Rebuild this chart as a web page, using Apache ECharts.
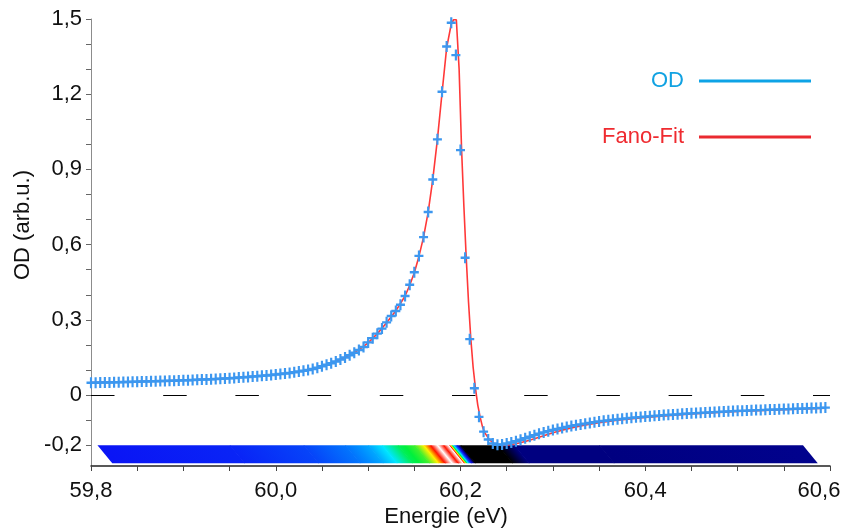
<!DOCTYPE html>
<html>
<head>
<meta charset="utf-8">
<script src="https://cdn.jsdelivr.net/npm/echarts@6.0.0/dist/echarts.min.js"></script>
<style>
  html, body { margin: 0; padding: 0; background: #fff; }
  #chart { width: 843px; height: 529px; }
</style>
</head>
<body>
<div id="chart"></div>
<script>
// OD-Messpunkte: Start 59,80 eV, Schrittweite 0,005 eV
var odStart = 59.8;
var odStep = 0.005;
var odValues = [
    0.049, 0.049, 0.050, 0.050, 0.050, 0.051, 0.051, 0.052, 0.052, 0.053,
    0.053, 0.054, 0.054, 0.055, 0.055, 0.056, 0.056, 0.057, 0.057, 0.058,
    0.059, 0.059, 0.060, 0.061, 0.062, 0.062, 0.063, 0.064, 0.065, 0.066,
    0.067, 0.068, 0.070, 0.071, 0.072, 0.074, 0.075, 0.077, 0.078, 0.080,
    0.082, 0.084, 0.086, 0.088, 0.091, 0.094, 0.097, 0.100, 0.104, 0.109,
    0.115, 0.121, 0.127, 0.134, 0.142, 0.150, 0.159, 0.169, 0.180, 0.192,
    0.210, 0.227, 0.245, 0.265, 0.290, 0.315, 0.335, 0.360, 0.395, 0.440,
    0.490, 0.555, 0.630, 0.730, 0.860, 1.020, 1.210, 1.390, 1.485, 1.356,
    0.977, 0.548, 0.223, 0.027, -0.087, -0.146, -0.177, -0.193, -0.198, -0.197,
    -0.193, -0.189, -0.184, -0.178, -0.172, -0.166, -0.160, -0.154, -0.149, -0.144,
    -0.139, -0.135, -0.131, -0.127, -0.123, -0.120, -0.117, -0.114, -0.111, -0.108,
    -0.105, -0.103, -0.101, -0.099, -0.097, -0.095, -0.093, -0.091, -0.089, -0.088,
    -0.086, -0.085, -0.083, -0.082, -0.080, -0.079, -0.078, -0.077, -0.075, -0.074,
    -0.073, -0.072, -0.071, -0.070, -0.069, -0.068, -0.067, -0.066, -0.065, -0.064,
    -0.063, -0.063, -0.062, -0.061, -0.060, -0.060, -0.059, -0.058, -0.058, -0.057,
    -0.056, -0.056, -0.055, -0.054, -0.054, -0.053, -0.052, -0.052, -0.051, -0.050
];

// Fano-Fit
var fitE = [59.80, 59.85, 59.90, 59.95, 60.00, 60.02, 60.04, 60.06, 60.08, 60.09,
    60.10, 60.11, 60.12, 60.13, 60.14, 60.145, 60.15, 60.155, 60.16, 60.165,
    60.17, 60.175, 60.18, 60.185, 60.19, 60.1925, 60.1955, 60.1985, 60.2012, 60.2037,
    60.2062, 60.2087, 60.2112, 60.2137, 60.2162, 60.2187, 60.2212, 60.2237, 60.2262, 60.2312,
    60.2362, 60.2412, 60.2462, 60.2512, 60.26, 60.27, 60.28, 60.29, 60.30, 60.31,
    60.32, 60.33, 60.34, 60.35, 60.37, 60.40, 60.45, 60.50, 60.55, 60.595];
var fitOD = [0.050, 0.054, 0.059, 0.067, 0.082, 0.091, 0.104, 0.127, 0.159, 0.180,
    0.208, 0.245, 0.288, 0.336, 0.395, 0.438, 0.488, 0.553, 0.630, 0.730,
    0.860, 1.020, 1.205, 1.385, 1.480, 1.497, 1.497, 1.300, 0.977, 0.750,
    0.548, 0.370, 0.223, 0.110, 0.027, -0.040, -0.087, -0.125, -0.150, -0.178,
    -0.193, -0.200, -0.201, -0.199, -0.194, -0.185, -0.174, -0.162, -0.150, -0.140,
    -0.131, -0.123, -0.116, -0.110, -0.100, -0.089, -0.075, -0.065, -0.058, -0.052];

// Farbstreifen (Intensitaet 0..1 entlang der Energie, obere Kante)
var stripE = [59.807, 59.95, 60.03, 60.075, 60.10, 60.115, 60.132, 60.150, 60.160, 60.1675,
    60.175, 60.1816, 60.187, 60.1924, 60.1957, 60.200, 60.240, 60.258, 60.35, 60.57];
var stripLevel = [0.30, 0.32, 0.36, 0.42, 0.48, 0.55, 0.66, 0.71, 0.80, 0.90,
    1.0, 0.90, 1.0, 0.55, 0.30, 0.0, 0.0, 0.12, 0.12, 0.14];
var stripTop = -0.2;
var stripBottom = -0.272;
var stripShift = 0.016;

// Achsen
var xLabelValues = [59.8, 60.0, 60.2, 60.4, 60.6];
var yLabelValues = [-0.2, 0, 0.3, 0.6, 0.9, 1.2, 1.5];
var yTickValues = [-0.2, -0.1, 0, 0.1, 0.2, 0.3, 0.4, 0.5, 0.6, 0.7, 0.8, 0.9, 1.0, 1.1, 1.2, 1.3, 1.4, 1.5];

var FONT = 'Arial, "Liberation Sans", sans-serif';
var colorMap = [
    [0.00, [0, 0, 0]],
    [0.12, [0, 0, 128]],
    [0.30, [10, 20, 245]],
    [0.45, [0, 140, 255]],
    [0.55, [0, 230, 255]],
    [0.68, [0, 240, 60]],
    [0.80, [255, 240, 0]],
    [0.90, [255, 20, 0]],
    [1.00, [255, 255, 255]]
];

function mapColor(level) {
    if (level <= colorMap[0][0]) return rgb(colorMap[0][1]);
    for (var i = 1; i < colorMap.length; i++) {
        if (level <= colorMap[i][0]) {
            var a = colorMap[i - 1], b = colorMap[i];
            var t = (level - a[0]) / (b[0] - a[0]);
            return rgb([0, 1, 2].map(function (k) { return a[1][k] + (b[1][k] - a[1][k]) * t; }));
        }
    }
    return rgb(colorMap[colorMap.length - 1][1]);
}

function rgb(c) {
    return 'rgb(' + Math.round(c[0]) + ',' + Math.round(c[1]) + ',' + Math.round(c[2]) + ')';
}

function commaFmt(v) {
    if (Math.abs(v) < 1e-9) return '0';
    return v.toFixed(1).replace('.', ',');
}

// letzte Beschriftung etwas nach links, damit sie ins Bild passt
function xLabelFmt(v) {
    if (v > 60.55) return '{last|' + commaFmt(v) + '}';
    return commaFmt(v);
}

// jedes Segment: Parallelogramm mit Verlauf quer zur Schraege
function renderStrip(params, api) {
    var e0 = api.value(0), e1 = api.value(1);
    var l0 = api.value(2), l1 = api.value(3);
    var tl = api.coord([e0, stripTop]);
    var tr = api.coord([e1, stripTop]);
    var bl = api.coord([e0 + stripShift, stripBottom]);
    var br = api.coord([e1 + stripShift, stripBottom]);
    tr[0] += 0.7; br[0] += 0.7;
    var sx = bl[0] - tl[0], sy = bl[1] - tl[1];
    var len = Math.sqrt(sx * sx + sy * sy);
    var nx = sy / len, ny = -sx / len;
    var d = (tr[0] - 0.7 - tl[0]) * nx;
    var stops = [{ offset: 0, color: mapColor(l0) }];
    colorMap.forEach(function (s) {
        var c = s[0];
        if ((c > Math.min(l0, l1)) && (c < Math.max(l0, l1))) {
            stops.push({ offset: (c - l0) / (l1 - l0), color: mapColor(c) });
        }
    });
    stops.push({ offset: 1, color: mapColor(l1) });
    stops.sort(function (a, b) { return a.offset - b.offset; });
    return {
        type: 'polygon',
        shape: { points: [tl, tr, br, bl] },
        style: {
            fill: new echarts.graphic.LinearGradient(tl[0], tl[1], tl[0] + d * nx, tl[1] + d * ny, stops, true)
        }
    };
}

var odData = odValues.map(function (v, i) {
    return [Number((odStart + i * odStep).toFixed(3)), v];
});
var fitData = fitE.map(function (e, i) { return [e, fitOD[i]]; });
var stripData = [];
for (var i = 0; i < stripE.length - 1; i++) {
    stripData.push([stripE[i], stripE[i + 1], stripLevel[i], stripLevel[i + 1]]);
}

var chart = echarts.init(document.getElementById('chart'), null, { renderer: 'canvas' });

var option = {
    backgroundColor: '#ffffff',
    animation: false,
    grid: { left: 91, right: 13, top: 19, bottom: 63, containLabel: false, outerBoundsMode: 'none' },
    legend: [
        {
            orient: 'vertical', right: 32, top: 70, padding: 0, align: 'right',
            itemWidth: 112, itemHeight: 3, icon: 'rect', selectedMode: false,
            textStyle: { fontSize: 22, fontFamily: FONT, color: '#11a2e2', padding: [0, 10, 0, 0] },
            data: [{ name: 'OD', itemStyle: { color: '#0ea3e6', borderWidth: 0 } }]
        },
        {
            orient: 'vertical', right: 32, top: 126, padding: 0, align: 'right',
            itemWidth: 112, itemHeight: 3, icon: 'rect', selectedMode: false,
            textStyle: { fontSize: 22, fontFamily: FONT, color: '#ef2b30', padding: [0, 10, 0, 0] },
            data: [{ name: 'Fano-Fit', itemStyle: { color: '#ea2a30', borderWidth: 0 } }]
        }
    ],
    xAxis: {
        type: 'value',
        min: 59.8,
        max: 60.6,
        interval: 0.2,
        splitLine: { show: false },
        axisLine: { onZero: false, lineStyle: { color: '#222', width: 1.5 } },
        axisTick: { inside: false, length: 5, lineStyle: { color: '#444' } },
        minorTick: { show: true, splitNumber: 4, length: 5, lineStyle: { color: '#444' } },
        axisLabel: {
            customValues: xLabelValues,
            formatter: xLabelFmt,
            fontSize: 22, fontFamily: FONT, color: '#111', margin: 14,
            showMinLabel: true, showMaxLabel: true,
            rich: {
                last: { fontSize: 22, fontFamily: FONT, color: '#111', padding: [0, 22, 0, 0] }
            }
        }
    },
    yAxis: {
        type: 'value',
        min: -0.283,
        max: 1.5,
        splitLine: { show: false },
        axisLine: { show: true, onZero: false, lineStyle: { color: '#8c8c8c', width: 1 } },
        axisTick: { show: true, inside: false, length: 5, customValues: yTickValues, lineStyle: { color: '#666' } },
        axisLabel: {
            customValues: yLabelValues,
            formatter: commaFmt,
            fontSize: 22, fontFamily: FONT, color: '#111', margin: 9
        }
    },
    graphic: [
        {
            type: 'text', x: 23, y: 225, rotation: Math.PI / 2,
            style: { text: 'OD (arb.u.)', font: '22px ' + FONT, fill: '#111', align: 'center', verticalAlign: 'middle' }
        },
        {
            type: 'text', x: 446, y: 517,
            style: { text: 'Energie (eV)', font: '22px ' + FONT, fill: '#111', align: 'center', verticalAlign: 'middle' }
        }
    ],
    series: [
        {
            name: 'Streifen',
            type: 'custom',
            renderItem: renderStrip,
            data: stripData,
            encode: { x: [0, 1] },
            clip: false,
            silent: true,
            z: 1
        },
        {
            name: 'Fano-Fit',
            type: 'line',
            data: fitData,
            showSymbol: false,
            symbol: 'none',
            lineStyle: { color: '#ff3838', width: 1.6 },
            itemStyle: { color: '#ea2a30' },
            z: 3,
            markLine: {
                silent: true,
                symbol: 'none',
                label: { show: false },
                lineStyle: { color: '#000', width: 1, type: [23.5, 48.7] },
                data: [{ yAxis: 0 }],
                z: 2
            }
        },
        {
            name: 'OD',
            type: 'scatter',
            data: odData,
            symbol: 'path://M3.8,0 H6.2 V3.9 H10 V6.1 H6.2 V10 H3.8 V6.1 H0 V3.9 H3.8 Z',
            symbolSize: [9, 11],
            itemStyle: { color: '#3d97ef', opacity: 1 },
            z: 4
        }
    ]
};

chart.setOption(option);
</script>
</body>
</html>
